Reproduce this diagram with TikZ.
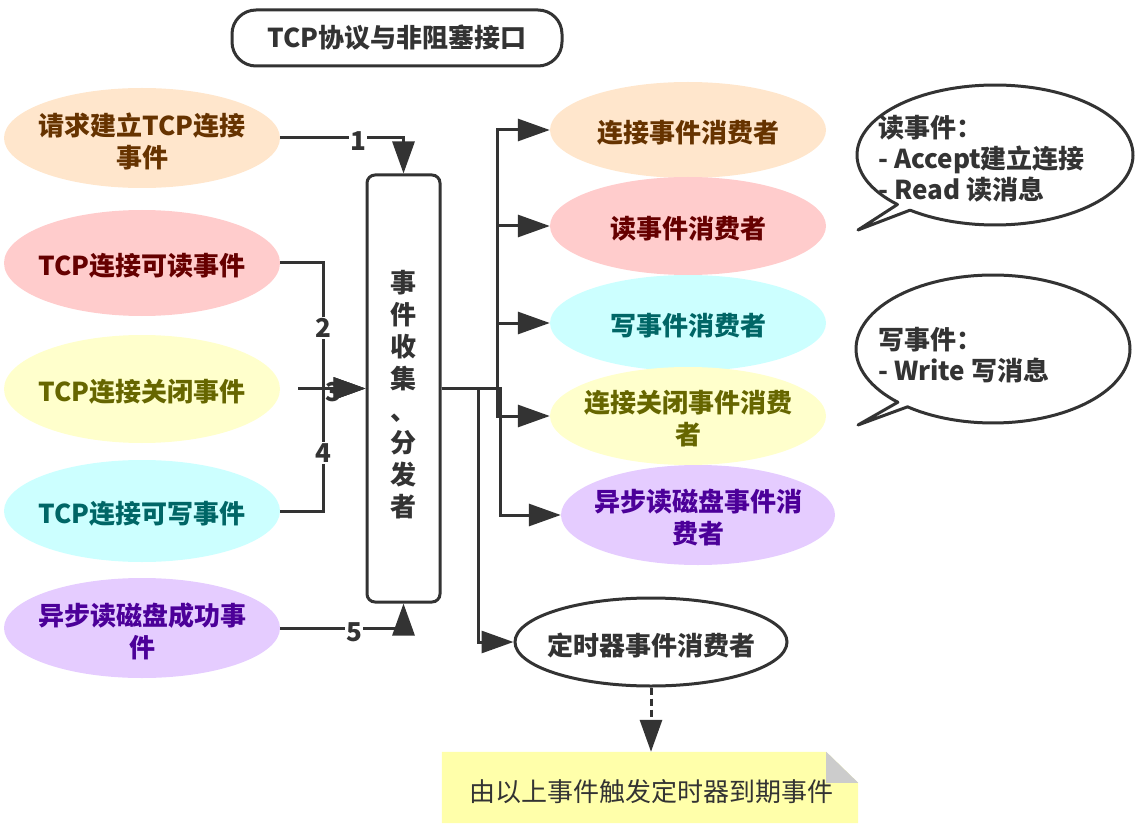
\documentclass[tikz,border=0pt]{standalone}
\usepackage{fontspec}
\setmainfont{Noto Sans CJK SC}
\usetikzlibrary{arrows.meta,shapes.geometric,calc}

\definecolor{ink}{HTML}{333333}
\definecolor{peachF}{HTML}{FFE6CC}\definecolor{peachT}{HTML}{663300}
\definecolor{pinkF}{HTML}{FFCCCC}\definecolor{pinkT}{HTML}{660000}
\definecolor{lemonF}{HTML}{FFFFCC}\definecolor{lemonT}{HTML}{666600}
\definecolor{aquaF}{HTML}{CCFFFF}\definecolor{aquaT}{HTML}{006666}
\definecolor{lilacF}{HTML}{E5CCFF}\definecolor{lilacT}{HTML}{4C0099}
\definecolor{noteF}{HTML}{FFFFAA}\definecolor{foldF}{HTML}{CCCCCC}

\tikzset{
  txt/.style={font=\fontsize{26}{32}\selectfont\bfseries, align=center},
  evtxt/.style={txt, inner sep=0pt, yshift=-3pt},
  % fixed-size ellipse; its caption is set as a centred label so it never resizes the shape
  event/.style={ellipse, inner sep=0pt, minimum width=276pt},
  ev peach/.style={event, fill=peachF, label={[evtxt, text=peachT]center:{#1}}},
  ev pink/.style={event, fill=pinkF, label={[evtxt, text=pinkT]center:{#1}}},
  ev lemon/.style={event, fill=lemonF, label={[evtxt, text=lemonT]center:{#1}}},
  ev aqua/.style={event, fill=aquaF, label={[evtxt, text=aquaT]center:{#1}}},
  ev lilac/.style={event, fill=lilacF, label={[evtxt, text=lilacT]center:{#1}}},
  ev plain/.style={event, fill=white, draw=ink, line width=3pt, label={[evtxt, text=ink]center:{#1}}},
  wire/.style={draw=ink, line width=3pt, -{Triangle[length=32pt,width=22pt]}},
  lbl/.style={txt, text=ink, fill=white, inner sep=1.5pt},
  bubtext/.style={font=\fontsize{26}{31}\selectfont\bfseries, align=left, text=ink, inner sep=0pt, anchor=west},
  bubble/.style={draw=ink, line width=3pt, fill=white, line join=round},
}

\begin{document}
\begin{tikzpicture}[x=1pt,y=-1pt]
\useasboundingbox (0,0) rectangle (1140,834);

% title
\node[txt, text=ink, draw=ink, line width=3pt, rounded corners=24pt,
      minimum width=330pt, minimum height=56pt] (title) at (397,38) {TCP协议与非阻塞接口};

% incoming events
\node[ev peach={请求建立TCP连接\\事件}, minimum height=100pt] (in1) at (142,138) {};
\node[ev pink={TCP连接可读事件},  minimum height=106pt] (in2) at (142,263) {};
\node[ev lemon={TCP连接关闭事件}, minimum height=108pt] (in3) at (142,389) {};
\node[ev aqua={TCP连接可写事件},  minimum height=102pt] (in4) at (142,511) {};
\node[ev lilac={异步读磁盘成功事\\件}, minimum height=100pt] (in5) at (142,628) {};

% collector / dispatcher
\node[draw=ink, line width=3pt, rounded corners=8pt, minimum width=73pt,
      minimum height=427pt, inner sep=0pt] (hub) at (403.5,388.5) {};
\node[txt, text=ink] (hubtxt) at (403.5,395) {事\\件\\收\\集\\、\\分\\发\\者};

% consumers
\node[ev peach={连接事件消费者}, minimum height=96pt] (out1) at (688,130) {};
\node[ev pink={读事件消费者},  minimum height=98pt] (out2) at (688,226) {};
\node[ev aqua={写事件消费者},  minimum height=96pt] (out3) at (688,323) {};
\node[ev lemon={连接关闭事件消费\\者}, minimum height=98pt] (out4) at (688,416) {};
\node[ev lilac={异步读磁盘事件消\\费者}, minimum width=274pt, minimum height=100pt] (out5) at (698,515) {};
\node[ev plain={定时器事件消费者}, minimum width=272pt, minimum height=88pt] (timer) at (651,642) {};

% note with folded corner
\node[minimum width=416pt, minimum height=71pt, inner sep=0pt] (note) at (650,787.5) {};
\fill[noteF] (note.north west) -- ($(note.north east)+(-32,0)$) -- ($(note.north east)+(0,31)$)
  -- (note.south east) -- (note.south west) -- cycle;
\fill[foldF] ($(note.north east)+(-32,0)$) -- ($(note.north east)+(-32,31)$) -- ($(note.north east)+(0,31)$) -- cycle;
\node[font=\fontsize{26}{32}\selectfont, text=ink] (notetxt) at (651,792) {由以上事件触发定时器到期事件};

% junction points
\coordinate (lbus) at (323,388.5);
\coordinate (s3) at (298,388.5);
\coordinate (rbus) at (497,388.5);
\coordinate (rbus2) at (500,388.5);
\coordinate (tbus) at (478,388.5);

% inputs into the hub
\draw[wire] (in1.east) -| (hub.north);
\draw[wire] (in2.east) -| (lbus) -- (hub.west);
\draw[wire] (s3) -- (hub.west);
\draw[wire] (in4.east) -| (lbus) -- (hub.west);
\draw[wire] (in5.east) -| (hub.south);

% hub out to consumers
\draw[wire] (hub.east) -- (rbus) |- (out1.west);
\draw[wire] (hub.east) -- (rbus) |- (out2.west);
\draw[wire] (hub.east) -- (rbus) |- (out3.west);
\draw[wire] (hub.east) -- (rbus) |- (out4.west);
\draw[wire] (hub.east) -- (rbus2) |- (out5.west);
\draw[wire] (hub.east) -- (tbus) |- (timer.west);

% timer to note
\draw[wire, dash pattern=on 7pt off 4pt] (timer.south) -- (timer.south |- note.north);

% edge numbers
\node[lbl] (n1) at (358,141) {1};
\node[lbl] (n2) at (323,328) {2};
\node[txt, text=ink, inner sep=0pt] (n3) at (333,392) {3};
\node[lbl] (n4) at (323,453) {4};
\node[lbl] (n5) at (354,632) {5};

% speech bubbles
\draw[bubble] plot[domain=135:488, samples=120, variable=\t] ({995+138*cos(\t)},{155+70*sin(\t)})
  -- (858,230) -- cycle;
\node[bubtext] (readtxt) at (878,159) {读事件：\\- Accept建立连接\\- Read 读消息};

\draw[bubble] plot[domain=134:488.6, samples=120, variable=\t] ({993+137*cos(\t)},{349+74*sin(\t)})
  -- (858,425) -- cycle;
\node[bubtext] (writetxt) at (878,355.5) {写事件：\\- Write 写消息};
\end{tikzpicture}
\end{document}
